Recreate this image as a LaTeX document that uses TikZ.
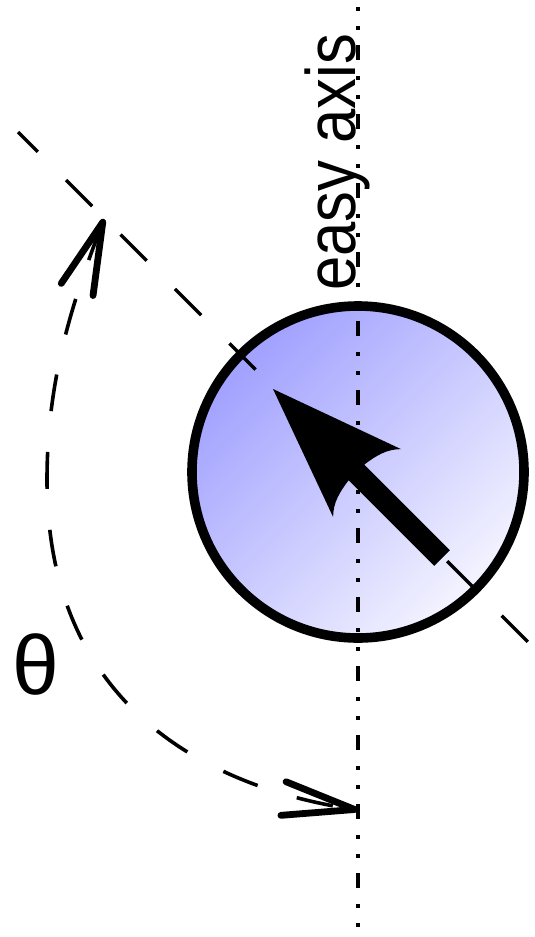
\documentclass[tikz,border=0pt]{standalone}
\usepackage{fontspec}
\setmainfont{Liberation Sans}
\usepackage{tikz}
\usetikzlibrary{arrows.meta}
\definecolor{spindark}{RGB}{160,160,255}
\definecolor{spinlight}{RGB}{244,244,255}

\begin{document}
\begin{tikzpicture}[x=0.5pt,y=-0.5pt,
 grain/.style={circle,draw,line width=4.8pt,minimum size=166pt,inner sep=0pt,top color=spindark,bottom color=spinlight,shading angle=45},
 axisline/.style={line width=2pt,dash pattern=on 7.5pt off 8pt on 2pt off 7.5pt on 2pt off 7.5pt,dash phase=12pt},
 dirline/.style={line width=1.7pt,dash pattern=on 18.5pt off 20pt,dash phase=4.5pt},
 thetatip/.tip={Straight Barb[length=36pt,width=17pt,line width=3.4pt,round]},
 anglearc/.style={line width=1.8pt,dash pattern=on 18.5pt off 20.5pt,thetatip-thetatip},
 tagtext/.style={inner sep=0pt,font=\fontsize{#1}{#1}\selectfont},
 tagtext/.default=35pt
]
\useasboundingbox (0,0) rectangle (535,937);

% the particle
\node[grain] (particle) at (358,472) {};

% easy axis and magnetisation direction
\coordinate (axistop) at (358,0);
\coordinate (axisbot) at (358,937);
\coordinate (dirstart) at (18,132);
\coordinate (dirend) at (528,642);
\draw[axisline] (axistop) -- (axisbot);
\draw[dirline] (dirstart) -- (dirend);
\node[tagtext,rotate=90,xscale=0.88,anchor=base west] (easytext) at (355,291) {easy axis};

% magnetisation arrow
\begin{scope}[shift={(442,558)},rotate=135]
\fill (0,11) -- (121,11) .. controls (119,26) and (116,38) .. (106,48) -- (239,0)
 -- (106,-48) .. controls (116,-38) and (119,-26) .. (121,-11) -- (0,-11) -- cycle;
\end{scope}

% angle theta
\coordinate (thetastart) at (104,219);
\coordinate (thetaend) at (358,810);
\draw[anglearc] (thetastart) .. controls (72,303) and (47,380) .. (47,480)
 .. controls (47,720) and (228,790) .. (thetaend);
\node[tagtext=42pt] (thetatext) at (36,664) {θ};
\end{tikzpicture}
\end{document}
